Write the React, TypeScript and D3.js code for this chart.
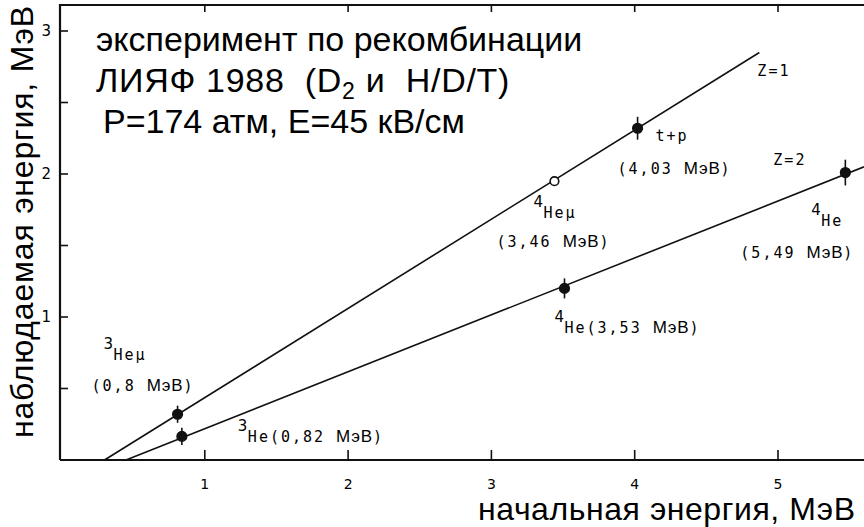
import React from "react";
import * as d3 from "d3";

// ---- data ----
const xTicks = [1, 2, 3, 4, 5];
const yTicks = [0.5, 1, 1.5, 2, 2.5, 3];
const yTickLabels = [1, 2, 3];

// fitted lines (initial energy, observed energy), MeV
const lineZ1 = [
  [0.3, 0],
  [4.87, 2.85],
];
const lineZ2 = [
  [0.45, 0],
  [5.6, 2.05],
];

// measured points
const pointX = [0.81, 3.44, 4.02, 0.84, 3.51, 5.47];
const pointY = [0.32, 1.95, 2.32, 0.165, 1.2, 2.01];
const pointErr = [0.06, 0, 0.08, 0.06, 0.07, 0.09];
const pointOpen = [false, true, false, false, false, false];

const titleLines = ["эксперимент по рекомбинации", "ЛИЯФ 1988  (D", "P=174 атм, E=45 кВ/см"];
const xLabel = "начальная энергия, МэВ";
const yLabel = "наблюдаемая энергия, МэВ";

const W = 864;
const H = 527;

const mono = "DejaVu Sans Mono, monospace";
const main = "Liberation Sans, Arial, sans-serif";
const sans = "DejaVu Sans, sans-serif";

export default function App() {
  const x = d3.scaleLinear().domain([0, 1]).range([61.5, 204.8]);
  const y = d3.scaleLinear().domain([0, 3]).range([460, 31]);
  const x0 = x(0) - 1.5;
  const yTop = 5;
  const yBot = y(0);

  const line = d3
    .line<number[]>()
    .x((d) => x(d[0]))
    .y((d) => y(d[1]));

  const P = pointX.map((px, i) => ({ x: x(px), y: y(pointY[i]) }));

  const ann = (
    key: string,
    px: number,
    py: number,
    sup: string | null,
    pre: string,
    mev: boolean,
    post: string
  ) => (
    <g key={key}>
      {sup && (
        <text x={px - 10} y={py - 11} fontFamily={sans} fontSize={15}>
          {sup}
        </text>
      )}
      <text x={px} y={py} fontFamily={mono} fontSize={15} letterSpacing={2} style={{ whiteSpace: "pre" }}>
        {pre}
        {mev && (
          <tspan fontFamily={main} fontSize={17} letterSpacing={0.8}>
            МэВ
          </tspan>
        )}
        {post}
      </text>
    </g>
  );

  return (
    <svg
      width={W}
      height={H}
      viewBox={`0 0 ${W} ${H}`}
      style={{ position: "absolute", left: 0, top: 0, background: "#fff" }}
    >
      <rect x={0} y={0} width={W} height={H} fill="#fff" />
      {/* frame */}
      <path d={`M${x0},${yBot} L${x0},${yTop} L${W},${yTop}`} fill="none" stroke="#111" strokeWidth={2.2} />
      <line x1={x0} y1={yBot} x2={W} y2={yBot} stroke="#111" strokeWidth={2.2} />
      {/* x ticks bottom & top */}
      {xTicks.map((t) => (
        <g key={"xt" + t}>
          <line x1={x(t)} x2={x(t)} y1={yBot} y2={yBot - 10} stroke="#111" strokeWidth={1.6} />
          <line x1={x(t)} x2={x(t)} y1={yTop} y2={yTop + 7} stroke="#111" strokeWidth={1.6} />
          <text x={x(t)} y={489} textAnchor="middle" fontFamily={sans} fontSize={14}>
            {t}
          </text>
        </g>
      ))}
      {/* y ticks */}
      {yTicks.map((t) => (
        <line key={"yt" + t} x1={x0} x2={x0 + 8} y1={y(t)} y2={y(t)} stroke="#111" strokeWidth={1.6} />
      ))}
      {yTickLabels.map((t) => (
        <text key={"yl" + t} x={51} y={y(t) + 5} textAnchor="end" fontFamily={sans} fontSize={15}>
          {t}
        </text>
      ))}

      {/* axis titles */}
      <text
        transform={`translate(33,222) rotate(-90)`}
        textAnchor="middle"
        fontFamily={main}
        fontSize={32}
        textLength={432}
        lengthAdjust="spacing"
      >
        {yLabel}
      </text>
      <text x={478} y={520} fontFamily={main} fontSize={32} textLength={377} lengthAdjust="spacing">
        {xLabel}
      </text>

      {/* title block */}
      <text x={96} y={51} fontFamily={main} fontSize={34}>
        {titleLines[0]}
      </text>
      <text x={96} y={92} fontFamily={main} fontSize={34} letterSpacing={0.7} style={{ whiteSpace: "pre" }}>
        {titleLines[1]}
        <tspan dy={7} fontSize={23}>
          2
        </tspan>
        <tspan dy={-7}>{" и  H/D/T)"}</tspan>
      </text>
      <text x={103} y={133} fontFamily={main} fontSize={34}>
        {titleLines[2]}
      </text>

      {/* lines */}
      <path d={line(lineZ1 as any) || ""} fill="none" stroke="#111" strokeWidth={1.6} />
      <path d={line(lineZ2 as any) || ""} fill="none" stroke="#111" strokeWidth={1.6} />

      {/* points with error bars */}
      {pointX.map((px, i) => (
        <g key={"p" + i}>
          {pointErr[i] > 0 && (
            <line
              x1={x(px)}
              x2={x(px)}
              y1={y(pointY[i] - pointErr[i])}
              y2={y(pointY[i] + pointErr[i])}
              stroke="#111"
              strokeWidth={1.6}
            />
          )}
          <circle
            cx={x(px)}
            cy={y(pointY[i])}
            r={pointOpen[i] ? 4.3 : 4.8}
            fill={pointOpen[i] ? "#fff" : "#111"}
            stroke="#111"
            strokeWidth={1.6}
          />
        </g>
      ))}

      {/* annotations */}
      {ann("a1", P[0].x - 64, P[0].y - 54, "3", "Heμ", false, "")}
      {ann("a2", P[0].x - 86, P[0].y - 23, null, "(0,8 ", true, ")")}
      {ann("a3", P[3].x + 66, P[3].y + 6, "3", "He(0,82 ", true, ")")}
      {ann("a4", P[1].x - 11, P[1].y + 37, "4", "Heμ", false, "")}
      {ann("a5", P[1].x - 58, P[1].y + 66, null, "(3,46 ", true, ")")}
      {ann("a6", P[2].x + 18, P[2].y + 13, null, "t+p", false, "")}
      {ann("a7", P[2].x - 20, P[2].y + 46, null, "(4,03 ", true, ")")}
      {ann("a8", x(4.87) - 2, y(2.85) + 24, null, "Z=1", false, "")}
      {ann("a9", P[5].x - 72, P[5].y - 8, null, "Z=2", false, "")}
      {ann("a10", P[5].x - 24, P[5].y + 53, "4", "He", false, "")}
      {ann("a11", P[5].x - 105, P[5].y + 85, null, "(5,49 ", true, ")")}
      {ann("a12", P[4].x, P[4].y + 45, "4", "He(3,53 ", true, ")")}
    </svg>
  );
}
